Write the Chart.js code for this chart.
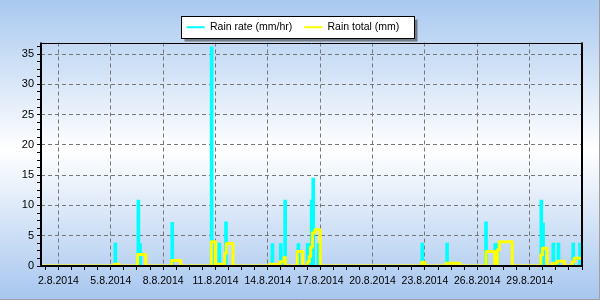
<!DOCTYPE html>
<html>
<head>
  <title>Rain</title>
  <style>
    body {
      margin: 0;
      overflow: hidden;
    }
  </style>
</head>
<body>
  <canvas id="rain-chart" width="600" height="300"></canvas>
  <script src="https://cdn.jsdelivr.net/npm/chart.js"></script>
  <script>
    // Rain rate spikes: day of August (1 = 1.8.2014 00:00) and mm/hr
    const rateDays = [5.26, 6.58, 6.68, 8.52, 10.78, 11.22, 11.6, 14.26, 14.74, 14.99, 15.75,
      16.28, 16.4, 16.51, 16.6, 16.9, 22.85, 24.27, 26.5, 27.03, 27.15, 29.67, 29.77,
      30.36, 30.65, 31.5, 31.89];
    const rateValues = [3.8, 10.9, 3.7, 7.2, 36.2, 3.8, 7.3, 3.7, 3.7, 10.9, 3.7,
      3.7, 3.7, 10.9, 14.5, 3.7, 3.8, 3.8, 7.3, 3.7, 3.7, 10.9, 7.1,
      3.8, 3.8, 3.8, 3.8];

    // Rain total (mm), each value holds from its day until the next one
    const totalDays = [1, 5.2, 5.47, 6.54, 7.0, 8.49, 9.0, 10.76, 11.0, 11.53, 11.62, 12.0,
      14.12, 14.7, 14.93, 15.0, 15.69, 16.0, 16.28, 16.37, 16.45, 16.55, 16.7, 17.0,
      22.82, 23.0, 24.21, 25.0, 26.5, 27.0, 27.15, 27.26, 28.0,
      29.64, 29.73, 30.0, 30.3, 30.59, 31.0, 31.45, 31.55, 32];
    const totalValues = [0, 0.3, 0, 1.9, 0, 0.9, 0, 4.0, 0.3, 2.1, 3.7, 0,
      0.3, 0.7, 1.4, 0, 2.4, 0, 0.7, 1.55, 3.1, 5.5, 6.0, 0,
      0.6, 0, 0.45, 0, 2.4, 0.3, 2.7, 4.0, 0,
      1.8, 2.95, 0, 0.45, 0.8, 0, 0.7, 1.3, 1.3];

    const xTickDays = [2, 5, 8, 11, 14, 17, 20, 23, 26, 29];
    const xTickLabels = ["2.8.2014", "5.8.2014", "8.8.2014", "11.8.2014", "14.8.2014",
      "17.8.2014", "20.8.2014", "23.8.2014", "26.8.2014", "29.8.2014"];
    const yTickValues = [0, 5, 10, 15, 20, 25, 30, 35];

    const near = (a, b) => Math.abs(a - b) < 1e-6;
    const isXMajor = v => xTickDays.some(d => near(d, v));
    const isYMajor = v => yTickValues.some(d => near(d, v));

    Chart.defaults.font.family = "'Liberation Sans', Arial, sans-serif";
    Chart.defaults.font.size = 10.5;
    Chart.defaults.color = "#000";

    // gradient background + legend frame, drawn before everything else
    const backdrop = {
      id: "backdrop",
      beforeDraw(chart) {
        const ctx = chart.ctx;
        const g = ctx.createLinearGradient(0, 0, 0, chart.height);
        g.addColorStop(0, "#a9c9ef");
        g.addColorStop(0.5, "#ffffff");
        g.addColorStop(1, "#a6c6ee");
        ctx.save();
        ctx.fillStyle = g;
        ctx.fillRect(0, 0, chart.width, chart.height);

        const boxes = chart.legend.legendHitBoxes;
        if (boxes && boxes.length) {
          const first = boxes[0];
          const last = boxes[boxes.length - 1];
          const cy = first.top + first.height / 2;
          const x0 = Math.round(first.left - 6) + 0.5;
          const x1 = Math.round(last.left + last.width + 15) + 0.5;
          const y0 = Math.round(cy - 11) + 0.5;
          const y1 = Math.round(cy + 11) + 0.5;
          ctx.fillStyle = "rgba(60, 60, 60, 0.6)";
          ctx.fillRect(x0 + 3, y0 + 3, x1 - x0, y1 - y0);
          ctx.fillStyle = "#fff";
          ctx.fillRect(x0, y0, x1 - x0, y1 - y0);
          ctx.strokeStyle = "#000";
          ctx.lineWidth = 1;
          ctx.strokeRect(x0, y0, x1 - x0, y1 - y0);
        }
        ctx.restore();
      }
    };

    // black plot frame and thin outer border
    const frame = {
      id: "frame",
      afterDatasetsDraw(chart) {
        const { left, top, right, bottom } = chart.chartArea;
        const ctx = chart.ctx;
        ctx.save();
        ctx.strokeStyle = "#000";
        ctx.lineWidth = 1;
        ctx.beginPath();
        ctx.moveTo(left, Math.round(top) + 0.5);
        ctx.lineTo(right, Math.round(top) + 0.5);
        ctx.stroke();
        ctx.lineWidth = 2;
        ctx.beginPath();
        ctx.moveTo(Math.round(left), top);
        ctx.lineTo(Math.round(left), Math.round(bottom));
        ctx.lineTo(Math.round(right), Math.round(bottom));
        ctx.lineTo(Math.round(right), top);
        ctx.stroke();
        ctx.strokeStyle = "#a0a0a0";
        ctx.lineWidth = 1;
        ctx.beginPath();
        ctx.moveTo(chart.width - 0.5, 0);
        ctx.lineTo(chart.width - 0.5, chart.height - 0.5);
        ctx.lineTo(0, chart.height - 0.5);
        ctx.stroke();
        ctx.restore();
      }
    };

    const chart = new Chart(document.getElementById("rain-chart"), {
      type: "bar",
      data: {
        datasets: [{
          type: "bar",
          label: "Rain rate (mm/hr)",
          data: rateDays.map((d, i) => ({ x: d, y: rateValues[i] })),
          backgroundColor: "#00ffff",
          borderWidth: 0,
          barThickness: 3,
          order: 1
        }, {
          type: "line",
          label: "Rain total (mm)",
          data: totalDays.map((d, i) => ({ x: d, y: totalValues[i] })),
          borderColor: "#ffff00",
          borderWidth: 3,
          borderJoinStyle: "round",
          borderCapStyle: "round",
          stepped: "before",
          pointRadius: 0,
          fill: false,
          order: 0
        }]
      },
      options: {
        responsive: false,
        animation: false,
        events: [],
        layout: {
          padding: { left: 4, right: 18, top: 10, bottom: 0 }
        },
        plugins: {
          tooltip: { enabled: false },
          legend: {
            position: "top",
            labels: {
              boxWidth: 18,
              boxHeight: 2,
              padding: 12,
              font: { size: 10.5 },
              generateLabels: c => c.data.datasets.map((ds, i) => ({
                text: ds.label,
                fillStyle: i === 0 ? "#00ffff" : "#ffff00",
                strokeStyle: i === 0 ? "#00ffff" : "#ffff00",
                lineWidth: 0,
                hidden: false,
                datasetIndex: i,
                fontColor: "#000"
              }))
            }
          }
        },
        scales: {
          x: {
            type: "linear",
            min: 1,
            max: 32,
            offset: false,
            afterFit: s => { s.height = 34; },
            afterBuildTicks: s => {
              const ticks = [];
              for (let v = 1.25; v <= 32; v += 0.75) ticks.push({ value: Math.round(v * 100) / 100 });
              s.ticks = ticks;
            },
            ticks: {
              autoSkip: false,
              maxRotation: 0,
              padding: 5,
              font: { size: 10.5 },
              callback: v => {
                const i = xTickDays.findIndex(d => near(d, v));
                return i >= 0 ? xTickLabels[i] : "";
              }
            },
            grid: {
              offset: false,
              color: ctx => ctx.tick && isXMajor(ctx.tick.value) ? "#777" : "rgba(0,0,0,0)",
              tickColor: "#000",
              tickLength: 4,
              tickBorderDash: []
            },
            border: { display: false, dash: [4, 3] }
          },
          y: {
            min: 0,
            max: 36.9,
            afterFit: s => { s.width = 37; },
            ticks: {
              stepSize: 1.25,
              autoSkip: false,
              includeBounds: false,
              padding: 3,
              font: { size: 11 },
              callback: v => (isYMajor(v) ? String(v) : "")
            },
            grid: {
              color: ctx => ctx.tick && isYMajor(ctx.tick.value) && ctx.tick.value > 0 ? "#777" : "rgba(0,0,0,0)",
              tickColor: "#000",
              tickLength: 4,
              tickBorderDash: []
            },
            border: { display: false, dash: [4, 3] }
          }
        }
      },
      plugins: [backdrop, frame]
    });
  </script>
</body>
</html>
